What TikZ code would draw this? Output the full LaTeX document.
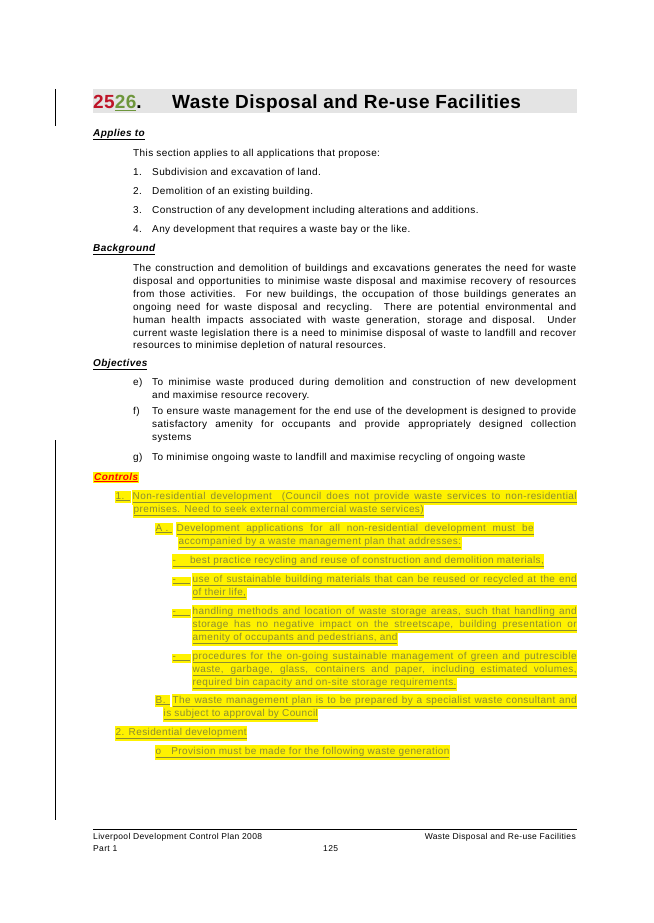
\documentclass[tikz,border=0pt]{standalone}
\usepackage{fontspec}
\setmainfont[LetterSpace=4]{Liberation Sans}
\newfontfamily\titlefont[LetterSpace=2.5]{Liberation Sans}
\definecolor{hlolive}{RGB}{140,140,50}
\definecolor{titlered}{RGB}{190,20,40}
\definecolor{titlegreen}{RGB}{110,150,60}
\definecolor{bandgrey}{RGB}{228,228,228}
\newcounter{linecnt}
\tikzset{
  txt/.style={anchor=base west, inner sep=0pt, font=\fontsize{10}{12}\selectfont},
  hl/.style={txt, fill=yellow, inner ysep=1.5pt, inner xsep=0.5pt, text=hlolive},
  head/.style={txt, font=\fontsize{10}{12}\selectfont\bfseries\itshape},
  titletxt/.style={anchor=base west, inner sep=0pt, font=\titlefont\fontsize{19}{22}\selectfont\bfseries}
}
% plain line, justified line, highlighted line, highlighted justified line
\newcommand{\tl}[3]{\stepcounter{linecnt}\node[txt] (t\thelinecnt) at (#1,#2+3) {#3};}
\newcommand{\jl}[4]{\stepcounter{linecnt}\node[txt] (t\thelinecnt) at (#1,#2+3) {\makebox[#3pt][s]{#4}};}
\newcommand{\hl}[3]{\stepcounter{linecnt}\node[hl] (t\thelinecnt) at (#1,#2+3) {\underline{#3}};}
\newcommand{\hj}[4]{\stepcounter{linecnt}\node[hl] (t\thelinecnt) at (#1,#2+3) {\underline{\makebox[#3pt][s]{#4}}};}
\begin{document}
\begin{tikzpicture}[x=1pt,y=-1pt]
  \useasboundingbox[fill=white] (0,0) rectangle (653,923);

  % change bars
  \draw[line width=0.6pt] (55,89) coordinate (bar1a) -- (55,126) coordinate (bar1b);
  \draw[line width=0.6pt] (55,440) coordinate (bar2a) -- (55,820) coordinate (bar2b);

  % title band
  \fill[bandgrey] (93,89) rectangle (577,113);
  \node[titletxt] (num) at (93,109) {\textcolor{titlered}{25}\textcolor{titlegreen}{\underline{26}}.};
  \node[titletxt] (title) at (172,109) {Waste Disposal and Re-use Facilities};

  % applies to
  \node[head] (applies) at (93,136) {\underline{Applies to}};
  \tl{133}{153}{This section applies to all applications that propose:}
  \tl{133}{172}{1.} \tl{152}{172}{Subdivision and excavation of land.}
  \tl{133}{191}{2.} \tl{152}{191}{Demolition of an existing building.}
  \tl{133}{210}{3.} \tl{152}{210}{Construction of any development including alterations and additions.}
  \tl{133}{229}{4.} \tl{152}{229}{Any development that requires a waste bay or the like.}

  % background
  \node[head] (background) at (93,251) {\underline{Background}};
  \jl{133}{268}{443}{The construction and demolition of buildings and excavations generates the need for waste}
  \jl{133}{281}{443}{disposal and opportunities to minimise waste disposal and maximise recovery of resources}
  \jl{133}{294}{443}{from those activities.\ \ For new buildings, the occupation of those buildings generates an}
  \jl{133}{307}{443}{ongoing need for waste disposal and recycling.\ \ There are potential environmental and}
  \jl{133}{320}{443}{human health impacts associated with waste generation, storage and disposal.\ \ Under}
  \jl{133}{333}{443}{current waste legislation there is a need to minimise disposal of waste to landfill and recover}
  \tl{133}{345}{resources to minimise depletion of natural resources.}

  % objectives
  \node[head] (objectives) at (93,366) {\underline{Objectives}};
  \tl{133}{382}{e)} \jl{152}{382}{424}{To minimise waste produced during demolition and construction of new development}
  \tl{152}{395}{and maximise resource recovery.}
  \tl{133}{411}{f)} \jl{152}{411}{424}{To ensure waste management for the end use of the development is designed to provide}
  \jl{152}{424}{424}{satisfactory amenity for occupants and provide appropriately designed collection}
  \tl{152}{437}{systems}
  \tl{133}{457}{g)} \tl{152}{457}{To minimise ongoing waste to landfill and maximise recycling of ongoing waste}

  % controls
  \node[head, fill=yellow, inner sep=1pt, text=red] (controls) at (93,480) {\underline{Controls}};
  \hl{115}{496}{1.\hspace{6pt}}
  \hj{132}{496}{444}{Non-residential development\ \ (Council does not provide waste services to non-residential}
  \hl{133}{509}{premises. Need to seek external commercial waste services)}
  \hl{155}{528}{A .\hspace{4pt}}
  \hj{176}{528}{357}{Development applications for all non-residential development must be}
  \hl{178}{541}{accompanied by a waste management plan that addresses:}
  \hl{172}{560}{-\hspace{14pt}best practice recycling and reuse of construction and demolition materials,}
  \hl{172}{579}{-\hspace{14pt}}
  \hj{192}{579}{384}{use of sustainable building materials that can be reused or recycled at the end}
  \hl{192}{592}{of their life,}
  \hl{172}{611}{-\hspace{14pt}}
  \hj{192}{611}{384}{handling methods and location of waste storage areas, such that handling and}
  \hj{192}{624}{384}{storage has no negative impact on the streetscape, building presentation or}
  \hl{192}{637}{amenity of occupants and pedestrians, and}
  \hl{172}{656}{-\hspace{14pt}}
  \hj{192}{656}{384}{procedures for the on-going sustainable management of green and putrescible}
  \hj{192}{669}{384}{waste, garbage, glass, containers and paper, including estimated volumes,}
  \hl{192}{682}{required bin capacity and on-site storage requirements.}
  \hl{155}{700}{B.\hspace{4pt}}
  \hj{172}{700}{404}{The waste management plan is to be prepared by a specialist waste consultant and}
  \hl{163}{713}{is subject to approval by Council}
  \hl{115}{732}{2. Residential development}
  \hl{155}{751}{o\hspace{10pt}Provision must be made for the following waste generation}

  % footer
  \draw[line width=0.5pt] (93,829) coordinate (footl) -- (577,829) coordinate (footr);
  \node[anchor=base west, inner sep=0pt, font=\fontsize{8.5}{10}\selectfont] (foot1) at (93,839) {Liverpool Development Control Plan 2008};
  \node[anchor=base east, inner sep=0pt, font=\fontsize{8.5}{10}\selectfont] (foot2) at (576,839) {Waste Disposal and Re-use Facilities};
  \node[anchor=base west, inner sep=0pt, font=\fontsize{8.5}{10}\selectfont] (foot3) at (93,851) {Part 1};
  \node[anchor=base west, inner sep=0pt, font=\fontsize{8.5}{10}\selectfont] (foot4) at (323,851) {125};
\end{tikzpicture}
\end{document}
